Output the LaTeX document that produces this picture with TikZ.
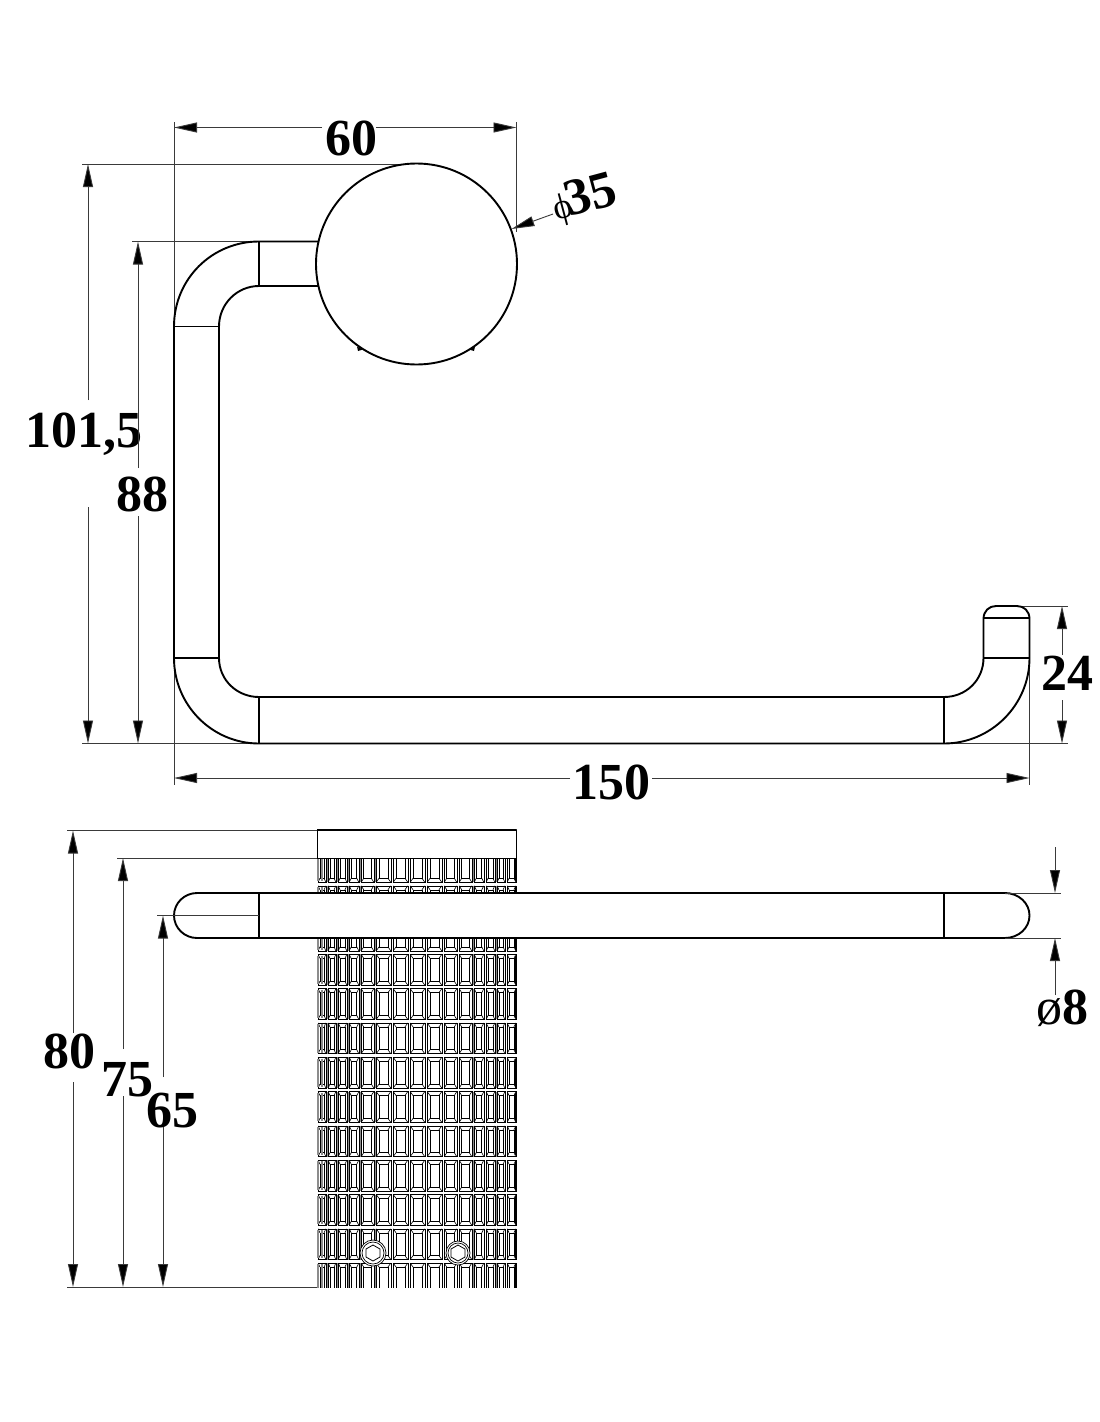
\documentclass[tikz,border=0pt]{standalone}
\usepackage{fontspec}
\setmainfont{Liberation Serif}
\usetikzlibrary{arrows.meta}
\definecolor{dimc}{HTML}{3A3A3A}
\definecolor{knurlg}{HTML}{8C8C8C}
\tikzset{
  part/.style={draw=black,line width=1.9pt,line join=round},
  extline/.style={draw=dimc,line width=0.9pt},
  dimline/.style={draw=dimc,line width=0.9pt},
  tiphead/.style={-{Triangle[length=23pt,width=10pt,fill=black]}},
  dimtext/.style={font=\fontsize{52}{52}\selectfont\bfseries,inner sep=0pt,anchor=base,text=black},
  cellline/.style={draw=black,line width=0.6pt},
  cellgrey/.style={draw=knurlg,line width=1.7pt},
}
\begin{document}
\begin{tikzpicture}[x=1pt,y=-1pt]
\useasboundingbox[fill=white] (0,0) rectangle (1100,1422);

% ---------- top view: extension lines
\draw[extline] (174,122) -- (174,785);
\draw[extline] (516.5,122) -- (516.5,232);
\draw[extline] (82,164) -- (416,164);
\draw[extline] (132,241.5) -- (259,241.5);
\draw[extline] (82,743.5) -- (259,743.5);
\draw[extline] (1016,606) -- (1068,606);
\draw[extline] (944,743.5) -- (1068,743.5);
\draw[extline] (1029.5,660) -- (1029.5,785);

% ---------- top view: arm
\draw[part] (320,241.5) -- (259,241.5)
  .. controls (212,241.5) and (174,279) .. (174,326.5)
  -- (174,658)
  .. controls (174,705) and (212,743.5) .. (259,743.5)
  -- (944,743.5)
  .. controls (991,743.5) and (1029.5,705) .. (1029.5,658)
  -- (1029.5,619)
  .. controls (1029.5,611) and (1024,606) .. (1017,606)
  -- (996,606)
  .. controls (989,606) and (983.5,611) .. (983.5,619)
  -- (983.5,658)
  .. controls (983.5,680) and (966,697) .. (944,697)
  -- (259,697)
  .. controls (237,697) and (219,680) .. (219,658)
  -- (219,326.5)
  .. controls (219,304) and (237,286) .. (259,286)
  -- (320,286);
\draw[part] (259,241.5) -- (259,286);
\draw[part] (174,326.5) -- (219,326.5);
\draw[part] (174,658) -- (219,658);
\draw[part] (259,697) -- (259,743.5);
\draw[part] (944,697) -- (944,743.5);
\draw[part] (983.5,658) -- (1029.5,658);
\draw[part] (983.5,618) -- (1029.5,618);

% ---------- top view: rose
\node[circle,draw=black,fill=white,line width=1.9pt,minimum size=201pt,inner sep=0pt] (rose) at (416.5,264) {};
\fill[black] (357,346.5) -- (363,349.5) -- (358,351) -- cycle;
\fill[black] (475,346.5) -- (469,349.5) -- (474,351) -- cycle;

% ---------- top view: dimensions
\node[dimtext] (d60) at (351,155) {60};
\draw[dimline,tiphead] (322,127.5) -- (174,127.5);
\draw[dimline,tiphead] (376,127.5) -- (516.5,127.5);

\node[dimtext] (d1015) at (84,447) {101,5};
\draw[dimline,tiphead] (88,400) -- (88,164);
\draw[dimline,tiphead] (88,507) -- (88,743.5);

\node[dimtext] (d88) at (142.5,511) {88};
\draw[dimline,tiphead] (138,468) -- (138,241.5);
\draw[dimline,tiphead] (138,516) -- (138,743.5);

\node[dimtext] (d24) at (1067,690) {24};
\draw[dimline,tiphead] (1062,655) -- (1062,606);
\draw[dimline,tiphead] (1062,700) -- (1062,743.5);

\node[dimtext] (d150) at (611,799) {150};
\draw[dimline,tiphead] (570,778) -- (174,778);
\draw[dimline,tiphead] (652,778) -- (1029.5,778);

\node[dimtext,rotate=15] (d35) at (588,212) {{\fontsize{36}{36}\selectfont\mdseries ϕ}\kern-5pt 35};
\draw[dimline,-{Triangle[length=23pt,width=10pt,fill=black]}] (553,214) -- (511.5,229);

% ---------- front view: knurled body
\begin{scope}
\clip (316,858) rectangle (518,1287);
\foreach \k in {0,...,12}{
  \pgfmathsetmacro{\ya}{849.7+34.3*\k+1.8}
  \pgfmathsetmacro{\yb}{849.7+34.3*(\k+1)-1.8}
  \foreach \gx in {327,337,348,360,375,473,496}{
    \draw[cellgrey] (\gx,\ya) -- (\gx,\yb);
  }
}
\foreach \xa/\xb in {317/327,327/337,337/348,348/360,360/375,375/392,392/409,409/426,426/443,443/458,458/473,473/485,485/496,496/506,506/517}{
  \foreach \k in {0,...,12}{
    \pgfmathsetmacro{\ya}{849.7+34.3*\k+1.8}
    \pgfmathsetmacro{\yb}{849.7+34.3*(\k+1)-1.8}
    \pgfmathsetmacro{\xl}{\xa+1.2}
    \pgfmathsetmacro{\xr}{\xb-1.2}
    \pgfmathsetmacro{\ins}{0.17*(\xb-\xa)}
    \pgfmathsetmacro{\xi}{\xl+\ins}
    \pgfmathsetmacro{\xj}{\xr-\ins}
    \pgfmathsetmacro{\yi}{\ya+4}
    \pgfmathsetmacro{\yj}{\yb-4}
    \draw[cellline] (\xl,\ya) rectangle (\xr,\yb);
    \draw[cellline] (\xi,\yi) rectangle (\xj,\yj);
    \draw[cellline] (\xl,\ya) -- (\xi,\yi) (\xr,\ya) -- (\xj,\yi) (\xl,\yb) -- (\xi,\yj) (\xr,\yb) -- (\xj,\yj);
  }
}
\foreach \k in {0,...,12}{
  \pgfmathsetmacro{\ya}{849.7+34.3*\k+3}
  \pgfmathsetmacro{\yb}{849.7+34.3*(\k+1)-3}
  \draw[draw=black,line width=2pt] (516.3,\ya) -- (516.3,\yb);
  \draw[draw=knurlg,line width=1.6pt] (318,\ya) -- (318,\yb);
  \draw[draw=knurlg,line width=1.6pt] (322,\ya) -- (322,\yb);
}
\end{scope}

% ---------- front view: plate
\fill[white] (317,830) rectangle (516.5,858);
\draw[draw=black,line width=0.9pt] (317,830) -- (317,858) -- (516.5,858);
\draw[part] (317,830) -- (516.5,830) -- (516.5,858);

% ---------- front view: bar
\draw[part,fill=white] (197,893)
  -- (1005,893)
  .. controls (1018.5,893) and (1029.5,903) .. (1029.5,915.5)
  .. controls (1029.5,928) and (1018.5,938) .. (1005,938)
  -- (197,938)
  .. controls (184.5,938) and (174,928) .. (174,915.5)
  .. controls (174,903) and (184.5,893) .. (197,893) -- cycle;
\draw[part] (259,893) -- (259,938);
\draw[part] (944,893) -- (944,938);

% ---------- front view: screws
\foreach \n/\sx/\sr in {screwa/373/13,screwb/458/12}{
  \node[circle,draw=black,fill=white,line width=0.7pt,minimum size=2*\sr pt,inner sep=0pt] (\n) at (\sx,1253) {};
  \draw[draw=black,line width=0.7pt] (\sx,1253) circle[radius=\sr-2];
  \draw[draw=black,line width=0.8pt] (\sx,1245) -- +(7,4) -- +(7,12) -- +(0,16) -- +(-7,12) -- +(-7,4) -- cycle;
}

% ---------- front view: extension lines
\draw[extline] (67,830.5) -- (317,830.5);
\draw[extline] (117,858) -- (317,858);
\draw[extline] (157,915.5) -- (259,915.5);
\draw[extline] (67,1287) -- (317,1287);
\draw[extline] (1005,893) -- (1061,893);
\draw[extline] (1005,938) -- (1061,938);

% ---------- front view: dimensions
\node[dimtext] (d80) at (69,1068) {80};
\draw[dimline,tiphead] (73,1033) -- (73,830.5);
\draw[dimline,tiphead] (73,1082) -- (73,1287);

\node[dimtext] (d75) at (127,1096) {75};
\draw[dimline,tiphead] (123,1049) -- (123,858);
\draw[dimline,tiphead] (123,1096) -- (123,1287);

\node[dimtext] (d65) at (172.5,1127) {65};
\draw[dimline,tiphead] (163,1077) -- (163,915.5);
\draw[dimline,tiphead] (163,1127) -- (163,1287);

\draw[dimline,tiphead] (1055,847) -- (1055,893);
\draw[dimline,tiphead] (1055,995) -- (1055,938);
\node[dimtext] (d8) at (1062,1024) {{\mdseries ø}8};
\end{tikzpicture}
\end{document}
